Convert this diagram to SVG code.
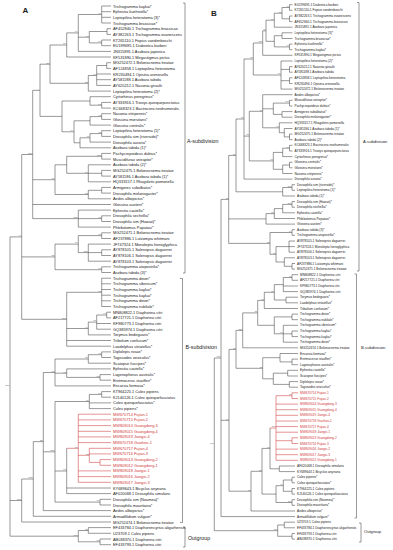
<svg xmlns="http://www.w3.org/2000/svg" width="393" height="550" viewBox="0 0 393 550">
<style>
.ln{fill:none;stroke:#444;stroke-width:0.55}
.rd{fill:none;stroke:#d03a3a;stroke-width:0.55}
text{font-family:"Liberation Sans",Arial,sans-serif;fill:#1a1a1a;dominant-baseline:central}
.tl{font-size:3.9px}
.tr{font-size:3.2px}
.red{fill:#d03a3a}
.bs{font-size:2.5px;fill:#555;text-anchor:end;dominant-baseline:auto}
.bsr{font-size:2.2px;fill:#555;text-anchor:end;dominant-baseline:auto}
.sub{font-size:5.3px}
.subr{font-size:4.1px}
.pl{font-weight:bold;font-size:8px;dominant-baseline:auto}
</style>
<rect width="393" height="550" fill="#fff"/>
<text class="pl" x="22.5" y="13">A</text>
<text class="pl" x="211" y="15.5">B</text>
<g id="connectors">
<path class="ln" d="M101.7 6V23M101.7 6H111M101.7 11.7H111M101.7 17.3H111M101.7 23H111M107 28.7V34.4M107 28.7H111M107 34.4H111M101.7 40V45.7M101.7 40H111M101.7 45.7H111M89.3 31.5V42.9M89.3 31.5H107M89.3 42.9H101.7M78.3 14.5V51.4M78.3 14.5H101.7M78.3 37.2H89.3M78.3 51.4H111M66.7 32.9V57M66.7 32.9H78.3M66.7 57H111M106.7 62.7V68.4M106.7 62.7H111M106.7 68.4H111M96.7 65.5V85.4M96.7 65.5H106.7M96.7 74H111M96.7 79.7H111M96.7 85.4H111M88.3 75.5V91.1M88.3 75.5H96.7M88.3 91.1H111M50 45V83.3M50 45H66.7M50 83.3H88.3M101.7 102.4V108.1M101.7 102.4H111M101.7 108.1H111M90 96.7V105.2M90 96.7H111M90 105.2H101.7M101.7 113.7V119.4M101.7 113.7H111M101.7 119.4H111M90 116.6V125.1M90 116.6H101.7M90 125.1H111M101.7 130.7V136.4M101.7 130.7H111M101.7 136.4H111M90 133.6V142.1M90 133.6H101.7M90 142.1H111M80 137.8V147.8M80 137.8H90M80 147.8H111M74 120.8V142.8M74 120.8H90M74 142.8H80M62 101V131.8M62 101H90M62 131.8H74M40 64.2V116.4M40 64.2H50M40 116.4H62M101.7 153.4V159.1M101.7 153.4H111M101.7 159.1H111M101.7 170.4V176.1M101.7 170.4H111M101.7 176.1H111M88.3 164.8V181.8M88.3 164.8H111M88.3 173.3H101.7M88.3 181.8H111M66.7 156.3V173.3M66.7 156.3H101.7M66.7 173.3H88.3M101.7 187.4V193.1M101.7 187.4H111M101.7 193.1H111M88.3 190.3V198.8M88.3 190.3H101.7M88.3 198.8H111M55 164.8V194.5M55 164.8H66.7M55 194.5H88.3M101.7 215.8V221.5M101.7 215.8H111M101.7 221.5H111M78.3 210.1V227.1M78.3 210.1H111M78.3 218.6H101.7M78.3 227.1H111M32.7 90.3V218.6M32.7 90.3H40M32.7 179.7H55M32.7 204.5H111M32.7 218.6H78.3M101.7 232.8V238.5M101.7 232.8H111M101.7 238.5H111M101.7 249.8V255.5M101.7 249.8H111M101.7 255.5H111M88.3 244.1V261.2M88.3 244.1H111M88.3 252.6H101.7M88.3 261.2H111M78.3 235.6V252.6M78.3 235.6H101.7M78.3 252.6H88.3M101.7 266.8V272.5M101.7 266.8H111M101.7 272.5H111M55 244.1V269.7M55 244.1H78.3M55 269.7H101.7M21.7 154.5V319.3M21.7 154.5H32.7M21.7 256.9H55M21.7 319.3H66.7M101.7 278.2V306.5M101.7 278.2H111M101.7 283.8H111M101.7 289.5H111M101.7 295.2H111M101.7 300.8H111M101.7 306.5H111M106.7 312.2V317.9M106.7 312.2H111M106.7 317.9H111M96.7 315V329.2M96.7 315H106.7M96.7 323.5H111M96.7 329.2H111M88.3 322.1V334.9M88.3 322.1H96.7M88.3 334.9H111M66.7 292.3V346.2M66.7 292.3H101.7M66.7 328.5H88.3M66.7 340.5H111M66.7 346.2H111M101.7 351.9V357.5M101.7 351.9H111M101.7 357.5H111M88.3 354.7V363.2M88.3 354.7H101.7M88.3 363.2H111M100 374.6V380.2M100 374.6H111M100 380.2H111M66.7 368.9V377.4M66.7 368.9H111M66.7 377.4H100M55 359V385.9M55 359H88.3M55 373.2H66.7M55 385.9H111M101.7 391.6V397.2M101.7 391.6H111M101.7 397.2H111M89.3 394.4V408.6M89.3 394.4H101.7M89.3 402.9H111M89.3 408.6H111M66.7 448.3V493.6M66.7 488H111M66.7 493.6H111M100 499.3V505M100 499.3H111M100 505H111M55 401.5V502.1M55 401.5H89.3M55 471H66.7M55 502.1H100M43.3 372.5V510.6M43.3 372.5H55M43.3 451.8H55M43.3 510.6H111M33.3 441.6V516.3M33.3 441.6H43.3M33.3 516.3H111M21.7 479V522M21.7 479H33.3M21.7 522H111M88.3 527.6V533.3M88.3 527.6H111M88.3 533.3H111M100 539V544.7M100 539H111M100 544.7H111M78.3 530.5V541.8M78.3 530.5H88.3M78.3 541.8H100M10 236.9V536.2M10 236.9H21.7M10 500.5H21.7M10 536.2H78.3"/>
<path class="rd" d="M100 459.6V465.3M100 459.6H111M100 465.3H111M89.3 448.3V462.4M89.3 448.3H111M89.3 453.9H111M89.3 462.4H100M78.3 414.2V482.3M78.3 414.2H111M78.3 419.9H111M78.3 425.6H111M78.3 431.3H111M78.3 436.9H111M78.3 442.6H111M78.3 455.3H89.3M78.3 470.9H111M78.3 476.6H111M78.3 482.3H111M66.7 448.3H78.3"/>
<path class="ln" d="M289.5 4.7V10.3M289.5 4.7H292.5M289.5 10.3H292.5M289.5 16V21.6M289.5 16H292.5M289.5 21.6H292.5M282 7.5V18.8M282 7.5H289.5M282 18.8H289.5M274.3 13.2V27.2M274.3 13.2H282M274.3 27.2H292.5M282 32.8V38.5M282 32.8H292.5M282 38.5H292.5M289.5 44.1V49.7M289.5 44.1H292.5M289.5 49.7H292.5M274.3 35.7V46.9M274.3 35.7H282M274.3 46.9H289.5M266 20.2V41.3M266 20.2H274.3M266 41.3H274.3M262.7 30.8V55.3M262.7 30.8H266M262.7 55.3H292.5M289.5 66.6V72.2M289.5 66.6H292.5M289.5 72.2H292.5M289.5 77.8V83.5M289.5 77.8H292.5M289.5 83.5H292.5M281 61V89.1M281 61H292.5M281 69.4H289.5M281 80.7H289.5M281 89.1H292.5M253.3 43V75M253.3 43H262.7M253.3 75H281M289.5 100.3V106M289.5 100.3H292.5M289.5 106H292.5M282 111.6V117.2M282 111.6H292.5M282 117.2H292.5M273.3 103.1V114.4M273.3 103.1H289.5M273.3 114.4H282M289.5 134.1V139.7M289.5 134.1H292.5M289.5 139.7H292.5M284.3 128.5V136.9M284.3 128.5H292.5M284.3 136.9H289.5M279.3 122.8V132.7M279.3 122.8H292.5M279.3 132.7H284.3M262.7 94.7V127.8M262.7 94.7H292.5M262.7 108.8H273.3M262.7 127.8H279.3M289.5 145.3V151M289.5 145.3H292.5M289.5 151H292.5M282.7 148.2V156.6M282.7 148.2H289.5M282.7 156.6H292.5M289.5 162.2V167.8M289.5 162.2H292.5M289.5 167.8H292.5M282.7 165V173.5M282.7 165H289.5M282.7 173.5H292.5M273.3 152.4V169.3M273.3 152.4H282.7M273.3 169.3H282.7M249.3 111.3V160.9M249.3 111.3H262.7M249.3 160.9H273.3M244 59V179.1M244 59H253.3M244 136.1H249.3M244 179.1H292.5M292 184.7V190.3M292 184.7H295M292 190.3H295M282.7 187.5V196M282.7 187.5H292M282.7 196H295M236 119V191.8M236 119H244M236 191.8H282.7M292 201.6V207.2M292 201.6H295M292 207.2H295M282.7 204.4V212.8M282.7 204.4H292M282.7 212.8H295M274.3 208.6V218.5M274.3 208.6H282.7M274.3 218.5H295M266 213.6V224.1M266 213.6H274.3M266 224.1H295M292 229.7V235.3M292 229.7H295M292 235.3H295M289 241V252.2M289 241H295M289 246.6H295M289 252.2H295M292 263.5V269.1M292 263.5H295M292 269.1H295M284.3 257.8V266.3M284.3 257.8H295M284.3 266.3H292M276 246.6V262M276 246.6H289M276 262H284.3M270 232.5V254.3M270 232.5H292M270 254.3H276M228.7 155.4V243.4M228.7 155.4H236M228.7 218.9H266M228.7 243.4H270M292 274.7V280.3M292 274.7H298M292 280.3H298M283.3 277.5V291.6M283.3 277.5H292M283.3 286H298M283.3 291.6H298M286 297.2V302.8M286 297.2H298M286 302.8H298M274.3 284.6V300M274.3 284.6H283.3M274.3 300H286M264.3 292.3V308.5M264.3 292.3H274.3M264.3 308.5H298M292 314.1V319.7M292 314.1H298M292 319.7H298M292 331V336.6M292 331H298M292 336.6H298M283.3 325.3V342.2M283.3 325.3H298M283.3 333.8H292M283.3 342.2H298M274.3 316.9V333.8M274.3 316.9H292M274.3 333.8H283.3M257.7 300.4V325.3M257.7 300.4H264.3M257.7 325.3H274.3M242.7 312.9V347.8M242.7 312.9H257.7M242.7 347.8H298M292 359.1V364.7M292 359.1H298M292 364.7H298M280 353.5V361.9M280 353.5H298M280 361.9H292M287.7 370.3V376M287.7 370.3H298M287.7 376H298M289.3 381.6V387.2M289.3 381.6H298M289.3 387.2H298M273.3 373.2V384.4M273.3 373.2H287.7M273.3 384.4H289.3M262.7 357.7V378.8M262.7 357.7H280M262.7 378.8H273.3M236 330.4V368.3M236 330.4H242.7M236 368.3H262.7M279.3 466V471.6M279.3 466H295M279.3 471.6H295M270 428V468.8M270 468.8H279.3M292 477.2V482.8M292 477.2H295M292 482.8H295M292 488.5V494.1M292 488.5H295M292 494.1H295M283.3 480V491.3M283.3 480H292M283.3 491.3H292M292 499.7V505.3M292 499.7H295M292 505.3H295M276 485.7V502.5M276 485.7H283.3M276 502.5H292M262 448.4V494.1M262 448.4H270M262 494.1H276M251 471.3V511M251 471.3H262M251 511H295M229 349.4V491.2M229 349.4H236M229 491.2H251M221 199.4V516.6M221 199.4H228.7M221 420.3H229M221 516.6H295M284.3 522.2V527.8M284.3 522.2H295M284.3 527.8H295M292 533.5V539.1M292 533.5H295M292 539.1H295M277.7 525V536.3M277.7 525H284.3M277.7 536.3H292M214.3 358V530.7M214.3 358H221M214.3 530.7H277.7"/>
<path class="rd" d="M292 392.8V398.5M292 392.8H298M292 398.5H298M292 437.8V443.5M292 437.8H298M292 443.5H298M276 395.7V460.3M276 395.7H292M276 404.1H298M276 409.7H298M276 415.3H298M276 421H298M276 426.6H298M276 432.2H298M276 440.7H292M276 449.1H298M276 454.7H298M276 460.3H298M270 428H276"/>
<path class="ln" d="M183 3H185V273H183M180 278.5H182.5V522.5H180M183 527H185V547H183M357 2.5H359V271H357M354.5 274H356.5V518H354.5M359 523H361V542H359"/>
</g>
<g id="groups">
<text class="sub" x="187" y="141">A-subdivision</text>
<text class="sub" x="185.5" y="347">B-subdivision</text>
<text class="sub" x="188" y="537.5">Outgroup</text>
<text class="subr" x="363" y="141.5">A-subdivision</text>
<text class="subr" x="361" y="347">B-subdivision</text>
<text class="subr" x="364" y="531">Outgroup</text>
</g>
<g id="bootstrap-A">
<text class="bs" x="101.1" y="13.8">99</text><text class="bs" x="101.1" y="42.2">77</text><text class="bs" x="88.7" y="36.5">64</text><text class="bs" x="77.7" y="32.2">94</text><text class="bs" x="66.1" y="44.3">84</text><text class="bs" x="96.1" y="74.8">99</text><text class="bs" x="87.7" y="82.6">78</text><text class="bs" x="49.4" y="63.5">81</text><text class="bs" x="101.1" y="104.5">91</text><text class="bs" x="101.1" y="115.9">91</text><text class="bs" x="101.1" y="132.9">77</text><text class="bs" x="89.4" y="137.1">96</text><text class="bs" x="73.4" y="131.1">94</text><text class="bs" x="32.1" y="153.8">100</text><text class="bs" x="101.1" y="155.6">100</text><text class="bs" x="87.7" y="172.6">99</text><text class="bs" x="54.4" y="179">90</text><text class="bs" x="87.7" y="193.8">98</text><text class="bs" x="101.1" y="217.9">98</text><text class="bs" x="77.7" y="217.9">100</text><text class="bs" x="101.1" y="234.9">77</text><text class="bs" x="87.7" y="251.9">100</text><text class="bs" x="77.7" y="243.4">99</text><text class="bs" x="54.4" y="256.2">80</text><text class="bs" x="101.1" y="269">90</text><text class="bs" x="21.1" y="236.2">44</text><text class="bs" x="101.1" y="291.6">98</text><text class="bs" x="106.1" y="314.3">91</text><text class="bs" x="96.1" y="321.4">77</text><text class="bs" x="87.7" y="327.8">44</text><text class="bs" x="66.1" y="318.6">100</text><text class="bs" x="101.1" y="354">91</text><text class="bs" x="87.7" y="358.3">77</text><text class="bs" x="54.4" y="371.8">93</text><text class="bs" x="99.4" y="376.7">77</text><text class="bs" x="66.1" y="372.5">97</text><text class="bs" x="101.1" y="393.7">99</text><text class="bs" x="88.7" y="400.8">99</text><text class="bs" x="77.7" y="447.6">99</text><text class="bs" x="88.7" y="454.6">98</text><text class="bs" x="66.1" y="470.3">77</text><text class="bs" x="54.4" y="451.1">100</text><text class="bs" x="99.4" y="501.4">99</text><text class="bs" x="42.7" y="440.9">86</text><text class="bs" x="32.7" y="478.3">100</text><text class="bs" x="21.1" y="499.8">100</text><text class="bs" x="87.7" y="529.8">71</text><text class="bs" x="99.4" y="541.1">77</text><text class="bs" x="77.7" y="535.5">100</text><text class="bs" x="9.4" y="385.8">100</text>
</g>
<g id="bootstrap-B">
<text class="bsr" x="288.9" y="6.8">99</text><text class="bsr" x="281.4" y="12.5">60</text><text class="bsr" x="273.7" y="19.5">74</text><text class="bsr" x="288.9" y="46.2">96</text><text class="bsr" x="265.4" y="30.1">48</text><text class="bsr" x="262.1" y="42.3">100</text><text class="bsr" x="252.7" y="58.3">57</text><text class="bsr" x="280.4" y="74.3">84</text><text class="bsr" x="288.9" y="102.4">100</text><text class="bsr" x="262.1" y="110.6">96</text><text class="bsr" x="278.7" y="127.1">99</text><text class="bsr" x="288.9" y="147.5">99</text><text class="bsr" x="272.7" y="160.2">91</text><text class="bsr" x="248.7" y="135.4">73</text><text class="bsr" x="243.4" y="118.3">85</text><text class="bsr" x="235.4" y="154.7">61</text><text class="bsr" x="291.4" y="186.8">100</text><text class="bsr" x="291.4" y="203.7">100</text><text class="bsr" x="273.7" y="212.9">87</text><text class="bsr" x="291.4" y="231.8">99</text><text class="bsr" x="275.4" y="253.6">93</text><text class="bsr" x="269.4" y="242.7">88</text><text class="bsr" x="228.1" y="198.7">95</text><text class="bsr" x="291.4" y="276.8">99</text><text class="bsr" x="273.7" y="291.6">71</text><text class="bsr" x="263.7" y="299.7">98</text><text class="bsr" x="282.7" y="333.1">97</text><text class="bsr" x="257.1" y="312.2">87</text><text class="bsr" x="242.1" y="329.7">100</text><text class="bsr" x="262.1" y="367.6">92</text><text class="bsr" x="235.4" y="348.7">88</text><text class="bsr" x="291.4" y="395">76</text><text class="bsr" x="275.4" y="427.3">100</text><text class="bsr" x="269.4" y="447.7">98</text><text class="bsr" x="282.7" y="485">99</text><text class="bsr" x="291.4" y="501.8">100</text><text class="bsr" x="261.4" y="470.6">86</text><text class="bsr" x="250.4" y="490.5">95</text><text class="bsr" x="228.4" y="419.6">99</text><text class="bsr" x="220.4" y="357.3">100</text><text class="bsr" x="277.1" y="530">100</text><text class="bsr" x="213.7" y="444">100</text>
</g>
<g id="taxa-A" class="tl">
<g id="a0"><text class="tl" x="113" y="6">Trichogramma kaykai*</text></g>
<g id="a1"><text class="tl" x="113" y="11.7">Ephestia kuehniella*</text></g>
<g id="a2"><text class="tl" x="113" y="17.3">Leptopilina heterotoma (3)*</text></g>
<g id="a3"><text class="tl" x="113" y="23">Trichogramma brassicae*</text></g>
<g id="a4"><text class="tl" x="113" y="28.7">AF452840.1 Trichogramma brassicae</text></g>
<g id="a5"><text class="tl" x="113" y="34.4">AY382263.1 Trichogramma evanescens</text></g>
<g id="a6"><text class="tl" x="113" y="40">KT265110.1 Fopius vandenboschi</text></g>
<g id="a7"><text class="tl" x="113" y="45.7">EU199695.1 Diabrotica barberi</text></g>
<g id="a8"><text class="tl" x="113" y="51.4">JN315891.1 Asobara japonica</text></g>
<g id="a9"><text class="tl" x="113" y="57">KF531890.1 Megastigmus pictus</text></g>
<g id="a10"><text class="tl" x="113" y="62.7">MG252472.1 Belonocnema treatae</text></g>
<g id="a11"><text class="tl" x="113" y="68.4">AF124858.1 Leptopilina heterotoma</text></g>
<g id="a12"><text class="tl" x="113" y="74">KR230494.1 Opisina arenosella</text></g>
<g id="a13"><text class="tl" x="113" y="79.7">AY581188.1 Asobara tabida</text></g>
<g id="a14"><text class="tl" x="113" y="85.4">AY620212.1 Nasonia giraulti</text></g>
<g id="a15"><text class="tl" x="113" y="91.1">Leptopilina heterotoma (2)*</text></g>
<g id="a16"><text class="tl" x="113" y="96.7">Cyrtorhinus peregrinus*</text></g>
<g id="a17"><text class="tl" x="113" y="102.4">AY333916.1 Trioxys quinquepunctatus</text></g>
<g id="a18"><text class="tl" x="113" y="108.1">KC668323.1 Bactrocera neohumeralis</text></g>
<g id="a19"><text class="tl" x="113" y="113.7">Nasonia vitripennis*</text></g>
<g id="a20"><text class="tl" x="113" y="119.4">Glossina morsitans*</text></g>
<g id="a21"><text class="tl" x="113" y="125.1">Glossina centralis*</text></g>
<g id="a22"><text class="tl" x="113" y="130.7">Leptopilina heterotoma (1)*</text></g>
<g id="a23"><text class="tl" x="113" y="136.4">Drosophila sim (riverside)*</text></g>
<g id="a24"><text class="tl" x="113" y="142.1">Drosophila auraria*</text></g>
<g id="a25"><text class="tl" x="113" y="147.8">Asobara tabida (1)*</text></g>
<g id="a26"><text class="tl" x="113" y="153.4">Pachycrepoideus dubius*</text></g>
<g id="a27"><text class="tl" x="113" y="159.1">Muscidifurax uniraptor*</text></g>
<g id="a28"><text class="tl" x="113" y="164.8">Asobara tabida (2)*</text></g>
<g id="a29"><text class="tl" x="113" y="170.4">MG252475.1 Belonocnema treatae</text></g>
<g id="a30"><text class="tl" x="113" y="176.1">AY581186.1 Asobara tabida (1)*</text></g>
<g id="a31"><text class="tl" x="113" y="181.8">HQ333157.1 Rhagoletis pomonella</text></g>
<g id="a32"><text class="tl" x="113" y="187.4">Armigeres subalbatus*</text></g>
<g id="a33"><text class="tl" x="113" y="193.1">Drosophila melanogaster*</text></g>
<g id="a34"><text class="tl" x="113" y="198.8">Aedes albopictus*</text></g>
<g id="a35"><text class="tl" x="113" y="204.5">Glossina austeni*</text></g>
<g id="a36"><text class="tl" x="113" y="210.1">Ephestia cautella*</text></g>
<g id="a37"><text class="tl" x="113" y="215.8">Drosophila sechellia*</text></g>
<g id="a38"><text class="tl" x="113" y="221.5">Drosophila sim (Hawaii)*</text></g>
<g id="a39"><text class="tl" x="113" y="227.1">Phlebotomus Papatasi*</text></g>
<g id="a40"><text class="tl" x="113" y="232.8">MG252471.1 Belonocnema treatae</text></g>
<g id="a41"><text class="tl" x="113" y="238.5">AF237886.1 Lutzomyia whitmani</text></g>
<g id="a42"><text class="tl" x="113" y="244.1">JF747324.1 Monolepta hieroglyphica</text></g>
<g id="a43"><text class="tl" x="113" y="249.8">AY878105.1 Solenopsis daguerrei</text></g>
<g id="a44"><text class="tl" x="113" y="255.5">AY878106.1 Solenopsis daguerrei</text></g>
<g id="a45"><text class="tl" x="113" y="261.2">AY878103.1 Solenopsis daguerrei</text></g>
<g id="a46"><text class="tl" x="113" y="266.8">Trichogramma atopovirilia*</text></g>
<g id="a47"><text class="tl" x="113" y="272.5">Asobara tabida (3)*</text></g>
<g id="a48"><text class="tl" x="113" y="278.2">Trichogramma deion*</text></g>
<g id="a49"><text class="tl" x="113" y="283.8">Trichogramma sibericum*</text></g>
<g id="a50"><text class="tl" x="113" y="289.5">Trichogramma kaykai*</text></g>
<g id="a51"><text class="tl" x="113" y="295.2">Trichogramma kaykai*</text></g>
<g id="a52"><text class="tl" x="113" y="300.8">Trichogramma deion*</text></g>
<g id="a53"><text class="tl" x="113" y="306.5">Trichogramma nubilale*</text></g>
<g id="a54"><text class="tl" x="113" y="312.2">MN808822.1 Diaphorina citri</text></g>
<g id="a55"><text class="tl" x="113" y="317.9">AF217721.1 Diaphorina citri</text></g>
<g id="a56"><text class="tl" x="113" y="323.5">KF980773.1 Diaphorina citri</text></g>
<g id="a57"><text class="tl" x="113" y="329.2">GQ385974.1 Diaphorina citri</text></g>
<g id="a58"><text class="tl" x="113" y="334.9">Torymus bedeguaris*</text></g>
<g id="a59"><text class="tl" x="113" y="340.5">Tribolium confusum*</text></g>
<g id="a60"><text class="tl" x="113" y="346.2">Laodelphax striatellus*</text></g>
<g id="a61"><text class="tl" x="113" y="351.9">Diplolepis rosae*</text></g>
<g id="a62"><text class="tl" x="113" y="357.5">Tagosodes orizicolus*</text></g>
<g id="a63"><text class="tl" x="113" y="363.2">Scatopse fuscipes*</text></g>
<g id="a64"><text class="tl" x="113" y="368.9">Ephestia cautella*</text></g>
<g id="a65"><text class="tl" x="113" y="374.6">Lagenophorus australis*</text></g>
<g id="a66"><text class="tl" x="113" y="380.2">Eretmocerus staufferi*</text></g>
<g id="a67"><text class="tl" x="113" y="385.9">Encarsia formosa*</text></g>
<g id="a68"><text class="tl" x="113" y="391.6">KT964225.1 Culex pipiens</text></g>
<g id="a69"><text class="tl" x="113" y="397.2">KJ140126.1 Culex quinquefasciatus</text></g>
<g id="a70"><text class="tl" x="113" y="402.9">Culex quinquefasciatus*</text></g>
<g id="a71"><text class="tl" x="113" y="408.6">Culex pipiens*</text></g>
<g id="a72"><text class="tl red" x="113" y="414.2">MW670714 Fujian-1</text></g>
<g id="a73"><text class="tl red" x="113" y="419.9">MW670715 Fujian-2</text></g>
<g id="a74"><text class="tl red" x="113" y="425.6">MW809014 Guangdong-3</text></g>
<g id="a75"><text class="tl red" x="113" y="431.3">MW809015 Guangdong-4</text></g>
<g id="a76"><text class="tl red" x="113" y="436.9">MW809019 Jiangxi-4</text></g>
<g id="a77"><text class="tl red" x="113" y="442.6">MW670718 Guizhou-1</text></g>
<g id="a78"><text class="tl red" x="113" y="448.3">MW670717 Fujian-4</text></g>
<g id="a79"><text class="tl red" x="113" y="453.9">MW670716 Fujian-3</text></g>
<g id="a80"><text class="tl red" x="113" y="459.6">MW809013 Guangdong-2</text></g>
<g id="a81"><text class="tl red" x="113" y="465.3">MW809012 Guangdong-1</text></g>
<g id="a82"><text class="tl red" x="113" y="470.9">MW809018 Jiangxi-1</text></g>
<g id="a83"><text class="tl red" x="113" y="476.6">MW809016 Jiangxi-2</text></g>
<g id="a84"><text class="tl red" x="113" y="482.3">MW809017 Jiangxi-3</text></g>
<g id="a85"><text class="tl" x="113" y="488">KY689643.1 Bicyclus anynana</text></g>
<g id="a86"><text class="tl" x="113" y="493.6">AF020068.1 Drosophila simulans</text></g>
<g id="a87"><text class="tl" x="113" y="499.3">Drosophila sim (Noumea)*</text></g>
<g id="a88"><text class="tl" x="113" y="505">Drosophila mauritiana*</text></g>
<g id="a89"><text class="tl" x="113" y="510.6">Aedes albopictus*</text></g>
<g id="a90"><text class="tl" x="113" y="516.3">Armadillidium vulgare*</text></g>
<g id="a91"><text class="tl" x="113" y="522">MG252474.1 Belonocnema treatae</text></g>
<g id="a92"><text class="tl" x="113" y="527.6">EF433784.1 Diaphorencyrtus aligarhensis</text></g>
<g id="a93"><text class="tl" x="113" y="533.3">U23709.1 Culex pipiens</text></g>
<g id="a94"><text class="tl" x="113" y="539">AB038370.1 Diaphorina citri</text></g>
<g id="a95"><text class="tl" x="113" y="544.7">EF433793.1 Diaphorina citri</text></g>
</g>
<g id="taxa-B">
<g id="b0"><text class="tr" x="294.5" y="4.7">EU199695.1 Diabrotica barberi</text></g>
<g id="b1"><text class="tr" x="294.5" y="10.3">KT265110.1 Fopius vandenboschi</text></g>
<g id="b2"><text class="tr" x="294.5" y="16">AY382263.1 Trichogramma evanescens</text></g>
<g id="b3"><text class="tr" x="294.5" y="21.6">AF452840.1 Trichogramma brassicae</text></g>
<g id="b4"><text class="tr" x="294.5" y="27.2">JN315891.1 Asobara japonica</text></g>
<g id="b5"><text class="tr" x="294.5" y="32.8">Leptopilina heterotoma (3)*</text></g>
<g id="b6"><text class="tr" x="294.5" y="38.5">Trichogramma brassicae*</text></g>
<g id="b7"><text class="tr" x="294.5" y="44.1">Ephestia kuehniella*</text></g>
<g id="b8"><text class="tr" x="294.5" y="49.7">Trichogramma kaykai*</text></g>
<g id="b9"><text class="tr" x="294.5" y="55.3">KF531890.1 Megastigmus pictus</text></g>
<g id="b10"><text class="tr" x="294.5" y="61">Leptopilina heterotoma (2)*</text></g>
<g id="b11"><text class="tr" x="294.5" y="66.6">AY620212.1 Nasonia giraulti</text></g>
<g id="b12"><text class="tr" x="294.5" y="72.2">AY581188.1 Asobara tabida</text></g>
<g id="b13"><text class="tr" x="294.5" y="77.8">AF124858.1 Leptopilina heterotoma</text></g>
<g id="b14"><text class="tr" x="294.5" y="83.5">KR230494.1 Opisina arenosella</text></g>
<g id="b15"><text class="tr" x="294.5" y="89.1">MG252472.1 Belonocnema treatae</text></g>
<g id="b16"><text class="tr" x="294.5" y="94.7">Aedes albopictus*</text></g>
<g id="b17"><text class="tr" x="294.5" y="100.3">Muscidifurax uniraptor*</text></g>
<g id="b18"><text class="tr" x="294.5" y="106">Pachycrepoideus dubius*</text></g>
<g id="b19"><text class="tr" x="294.5" y="111.6">Armigeres subalbatus*</text></g>
<g id="b20"><text class="tr" x="294.5" y="117.2">Drosophila melanogaster*</text></g>
<g id="b21"><text class="tr" x="294.5" y="122.8">HQ333157.1 Rhagoletis pomonella</text></g>
<g id="b22"><text class="tr" x="294.5" y="128.5">AY581186.1 Asobara tabida (1)*</text></g>
<g id="b23"><text class="tr" x="294.5" y="134.1">MG252475.1 Belonocnema treatae</text></g>
<g id="b24"><text class="tr" x="294.5" y="139.7">Asobara tabida (2)*</text></g>
<g id="b25"><text class="tr" x="294.5" y="145.3">KC668323.1 Bactrocera neohumeralis</text></g>
<g id="b26"><text class="tr" x="294.5" y="151">AY333916.1 Trioxys quinquepunctatus</text></g>
<g id="b27"><text class="tr" x="294.5" y="156.6">Cyrtorhinus peregrinus*</text></g>
<g id="b28"><text class="tr" x="294.5" y="162.2">Glossina centralis*</text></g>
<g id="b29"><text class="tr" x="294.5" y="167.8">Glossina morsitans*</text></g>
<g id="b30"><text class="tr" x="294.5" y="173.5">Nasonia vitripennis*</text></g>
<g id="b31"><text class="tr" x="294.5" y="179.1">Drosophila auraria*</text></g>
<g id="b32"><text class="tr" x="297" y="184.7">Drosophila sim (riverside)*</text></g>
<g id="b33"><text class="tr" x="297" y="190.3">Leptopilina heterotoma (1)*</text></g>
<g id="b34"><text class="tr" x="297" y="196">Asobara tabida (1)*</text></g>
<g id="b35"><text class="tr" x="297" y="201.6">Drosophila sim (Hawaii)*</text></g>
<g id="b36"><text class="tr" x="297" y="207.2">Drosophila sechellia*</text></g>
<g id="b37"><text class="tr" x="297" y="212.8">Ephestia cautella*</text></g>
<g id="b38"><text class="tr" x="297" y="218.5">Phlebotomus Papatasi*</text></g>
<g id="b39"><text class="tr" x="297" y="224.1">Glossina austeni*</text></g>
<g id="b40"><text class="tr" x="297" y="229.7">Asobara tabida (3)*</text></g>
<g id="b41"><text class="tr" x="297" y="235.3">Trichogramma atopovirilia*</text></g>
<g id="b42"><text class="tr" x="297" y="241">AY878105.1 Solenopsis daguerrei</text></g>
<g id="b43"><text class="tr" x="297" y="246.6">JF747324.1 Monolepta hieroglyphica</text></g>
<g id="b44"><text class="tr" x="297" y="252.2">AY878106.1 Solenopsis daguerrei</text></g>
<g id="b45"><text class="tr" x="297" y="257.8">AY878103.1 Solenopsis daguerrei</text></g>
<g id="b46"><text class="tr" x="297" y="263.5">AF237886.1 Lutzomyia whitmani</text></g>
<g id="b47"><text class="tr" x="297" y="269.1">MG252471.1 Belonocnema treatae</text></g>
<g id="b48"><text class="tr" x="300" y="274.7">MN808822.1 Diaphorina citri</text></g>
<g id="b49"><text class="tr" x="300" y="280.3">AF217721.1 Diaphorina citri</text></g>
<g id="b50"><text class="tr" x="300" y="286">KF980773.1 Diaphorina citri</text></g>
<g id="b51"><text class="tr" x="300" y="291.6">GQ385974.1 Diaphorina citri</text></g>
<g id="b52"><text class="tr" x="300" y="297.2">Torymus bedeguaris*</text></g>
<g id="b53"><text class="tr" x="300" y="302.8">Laodelphax striatellus*</text></g>
<g id="b54"><text class="tr" x="300" y="308.5">Tribolium confusum*</text></g>
<g id="b55"><text class="tr" x="300" y="314.1">Trichogramma deion*</text></g>
<g id="b56"><text class="tr" x="300" y="319.7">Trichogramma nubilale*</text></g>
<g id="b57"><text class="tr" x="300" y="325.3">Trichogramma sibericum*</text></g>
<g id="b58"><text class="tr" x="300" y="331">Trichogramma kaykai*</text></g>
<g id="b59"><text class="tr" x="300" y="336.6">Trichogramma kaykai*</text></g>
<g id="b60"><text class="tr" x="300" y="342.2">Trichogramma deion*</text></g>
<g id="b61"><text class="tr" x="300" y="347.8">MG252474.1 Belonocnema treatae</text></g>
<g id="b62"><text class="tr" x="300" y="353.5">Encarsia formosa*</text></g>
<g id="b63"><text class="tr" x="300" y="359.1">Eretmocerus staufferi*</text></g>
<g id="b64"><text class="tr" x="300" y="364.7">Lagenophorus australis*</text></g>
<g id="b65"><text class="tr" x="300" y="370.3">Ephestia cautella*</text></g>
<g id="b66"><text class="tr" x="300" y="376">Scatopse fuscipes*</text></g>
<g id="b67"><text class="tr" x="300" y="381.6">Diplolepis rosae*</text></g>
<g id="b68"><text class="tr" x="300" y="387.2">Tagosodes orizicolus*</text></g>
<g id="b69"><text class="tr red" x="300" y="392.8">MW670714 Fujian-1</text></g>
<g id="b70"><text class="tr red" x="300" y="398.5">MW670715 Fujian-2</text></g>
<g id="b71"><text class="tr red" x="300" y="404.1">MW809014 Guangdong-3</text></g>
<g id="b72"><text class="tr red" x="300" y="409.7">MW809015 Guangdong-4</text></g>
<g id="b73"><text class="tr red" x="300" y="415.3">MW809019 Jiangxi-4</text></g>
<g id="b74"><text class="tr red" x="300" y="421">MW670718 Guizhou-1</text></g>
<g id="b75"><text class="tr red" x="300" y="426.6">MW670717 Fujian-4</text></g>
<g id="b76"><text class="tr red" x="300" y="432.2">MW809018 Jiangxi-1</text></g>
<g id="b77"><text class="tr red" x="300" y="437.8">MW809013 Guangdong-2</text></g>
<g id="b78"><text class="tr red" x="300" y="443.5">MW670716 Fujian-3</text></g>
<g id="b79"><text class="tr red" x="300" y="449.1">MW809016 Jiangxi-2</text></g>
<g id="b80"><text class="tr red" x="300" y="454.7">MW809017 Jiangxi-3</text></g>
<g id="b81"><text class="tr red" x="300" y="460.3">MW809012 Guangdong-1</text></g>
<g id="b82"><text class="tr" x="297" y="466">AF020068.1 Drosophila simulans</text></g>
<g id="b83"><text class="tr" x="297" y="471.6">KY689643.1 Bicyclus anynana</text></g>
<g id="b84"><text class="tr" x="297" y="477.2">Culex pipiens*</text></g>
<g id="b85"><text class="tr" x="297" y="482.8">Culex quinquefasciatus*</text></g>
<g id="b86"><text class="tr" x="297" y="488.5">KT964225.1 Culex pipiens</text></g>
<g id="b87"><text class="tr" x="297" y="494.1">KJ140126.1 Culex quinquefasciatus</text></g>
<g id="b88"><text class="tr" x="297" y="499.7">Drosophila sim (Noumea)*</text></g>
<g id="b89"><text class="tr" x="297" y="505.3">Drosophila mauritiana*</text></g>
<g id="b90"><text class="tr" x="297" y="511">Aedes albopictus*</text></g>
<g id="b91"><text class="tr" x="297" y="516.6">Armadillidium vulgare*</text></g>
<g id="b92"><text class="tr" x="297" y="522.2">U23709.1 Culex pipiens</text></g>
<g id="b93"><text class="tr" x="297" y="527.8">EF433784.1 Diaphorencyrtus aligarhensis</text></g>
<g id="b94"><text class="tr" x="297" y="533.5">EF433793.1 Diaphorina citri</text></g>
<g id="b95"><text class="tr" x="297" y="539.1">AB038370.1 Diaphorina citri</text></g>
</g>
</svg>
